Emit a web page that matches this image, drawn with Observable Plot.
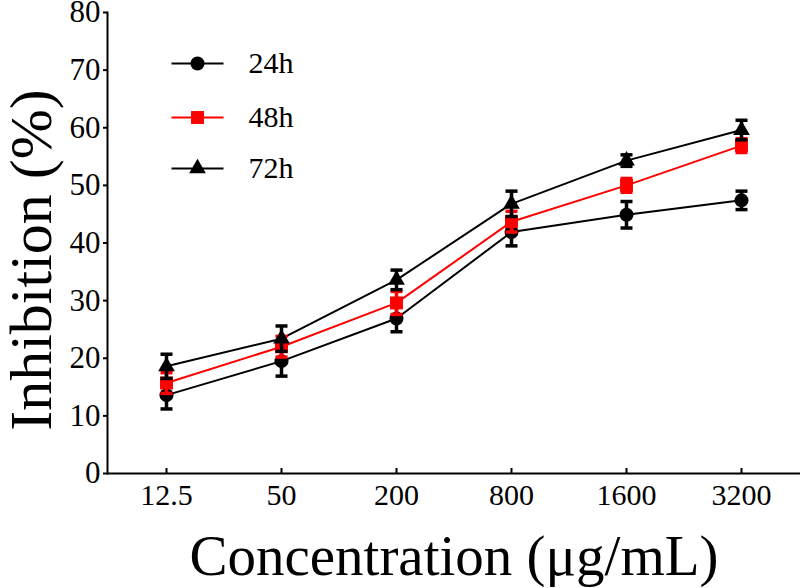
<!DOCTYPE html>
<html>
<head>
<meta charset="utf-8">
<script src="https://cdn.jsdelivr.net/npm/d3@7"></script>
<script src="https://cdn.jsdelivr.net/npm/@observablehq/plot@0.6"></script>
<style>
  html, body { margin: 0; padding: 0; background: #fff; }
  #chart svg { display: block; }
</style>
</head>
<body>
<div id="chart"></div>
<script>
// ---- data ----
const concentrations = ["12.5", "50", "200", "800", "1600", "3200"];
const seriesNames = ["24h", "48h", "72h"];
const inh24 = [13.6, 19.5, 26.9, 41.9, 44.9, 47.4];
const err24 = [2.4, 2.6, 2.3, 2.4, 2.3, 1.6];
const inh48 = [15.7, 22.0, 29.6, 43.7, 50.0, 56.9];
const err48 = [1.8, 1.8, 2.0, 1.8, 1.2, 1.2];
const inh72 = [18.6, 23.4, 33.6, 46.8, 54.3, 59.6];
const err72 = [2.1, 2.2, 1.7, 2.2, 1.0, 1.7];
const yTicks = [0, 10, 20, 30, 40, 50, 60, 70, 80];
const xLabel = "Concentration (μg/mL)";
const yLabel = "Inhibition (%)";

// ---- styles ----
const colors = {"24h": "#000000", "48h": "#ff0000", "72h": "#000000"};
const symbols = {"24h": "circle", "48h": "square", "72h": "triangle"};
const radii = {"24h": 7, "48h": 7.3, "72h": 6.2};
const font = "'Liberation Serif', 'Times New Roman', serif";

const values = {"24h": inh24, "48h": inh48, "72h": inh72};
const errors = {"24h": err24, "48h": err48, "72h": err72};
const data = [];
for (const s of seriesNames) {
  concentrations.forEach((c, i) => {
    data.push({series: s, conc: c, v: values[s][i], lo: values[s][i] - errors[s][i], hi: values[s][i] + errors[s][i]});
  });
}

const hline = w => ({draw(ctx) { ctx.moveTo(-w / 2, 0); ctx.lineTo(w / 2, 0); }});

const marks = [
  Plot.ruleY([0], {stroke: "#000", strokeWidth: 2}),
  Plot.frame({anchor: "left", stroke: "#000", strokeWidth: 2}),
  Plot.axisY({ticks: yTicks, tickSize: 4, tickPadding: 3, fontSize: 31, strokeWidth: 2, tickFormat: d => String(d), label: null, fill: "#000"}),
  Plot.axisX({tickSize: 0, tickPadding: 10, fontSize: 30, label: null, fill: "#000"}),
  Plot.axisX({tickSize: 5, dy: -5, tickPadding: 0, strokeWidth: 2, tickFormat: () => "", label: null}),
  Plot.text([yLabel], {frameAnchor: "left", textAnchor: "middle", lineAnchor: "middle", rotate: -90, dx: -76, dy: 17, fontSize: 60, fontFamily: font, fill: "#000"}),
  Plot.text([xLabel], {frameAnchor: "bottom", textAnchor: "middle", lineAnchor: "middle", dy: 83, fontSize: 57, fontFamily: font, fill: "#000"})
];

for (const s of seriesNames) {
  const d = data.filter(r => r.series === s);
  marks.push(Plot.line(d, {x: "conc", y: "v", stroke: colors[s], strokeWidth: 2}));
}
for (const s of seriesNames) {
  const d = data.filter(r => r.series === s);
  marks.push(Plot.ruleX(d, {x: "conc", y1: "lo", y2: "hi", stroke: colors[s], strokeWidth: 3.5}));
  marks.push(Plot.dot(d, {x: "conc", y: "lo", symbol: hline(12), fill: "none", stroke: colors[s], strokeWidth: 3.5}));
  marks.push(Plot.dot(d, {x: "conc", y: "hi", symbol: hline(12), fill: "none", stroke: colors[s], strokeWidth: 3.5}));
  marks.push(Plot.dot(d, {x: "conc", y: "v", symbol: symbols[s], r: radii[s], fill: colors[s], stroke: "none"}));
}

// legend (inside the frame, top-left)
const legendRows = [51, 105, 156];
seriesNames.forEach((s, i) => {
  marks.push(Plot.dot([s], {frameAnchor: "top-left", dx: 90, dy: legendRows[i], symbol: hline(52), fill: "none", stroke: colors[s], strokeWidth: 2}));
  marks.push(Plot.dot([s], {frameAnchor: "top-left", dx: 90, dy: legendRows[i], symbol: symbols[s], r: radii[s], fill: colors[s], stroke: "none"}));
  marks.push(Plot.text([s], {frameAnchor: "top-left", dx: 141, dy: legendRows[i], text: d => d, textAnchor: "start", lineAnchor: "middle", fontSize: 30, fontFamily: font, fill: "#000"}));
});

const chart = Plot.plot({
  width: 800,
  height: 588,
  marginLeft: 107,
  marginRight: 0,
  marginTop: 12,
  marginBottom: 115,
  style: {fontFamily: font, background: "#fff", color: "#000", overflow: "visible"},
  x: {type: "point", domain: concentrations, padding: 0.5},
  y: {domain: [0, 80]},
  marks
});
document.getElementById("chart").appendChild(chart);
</script>
</body>
</html>
